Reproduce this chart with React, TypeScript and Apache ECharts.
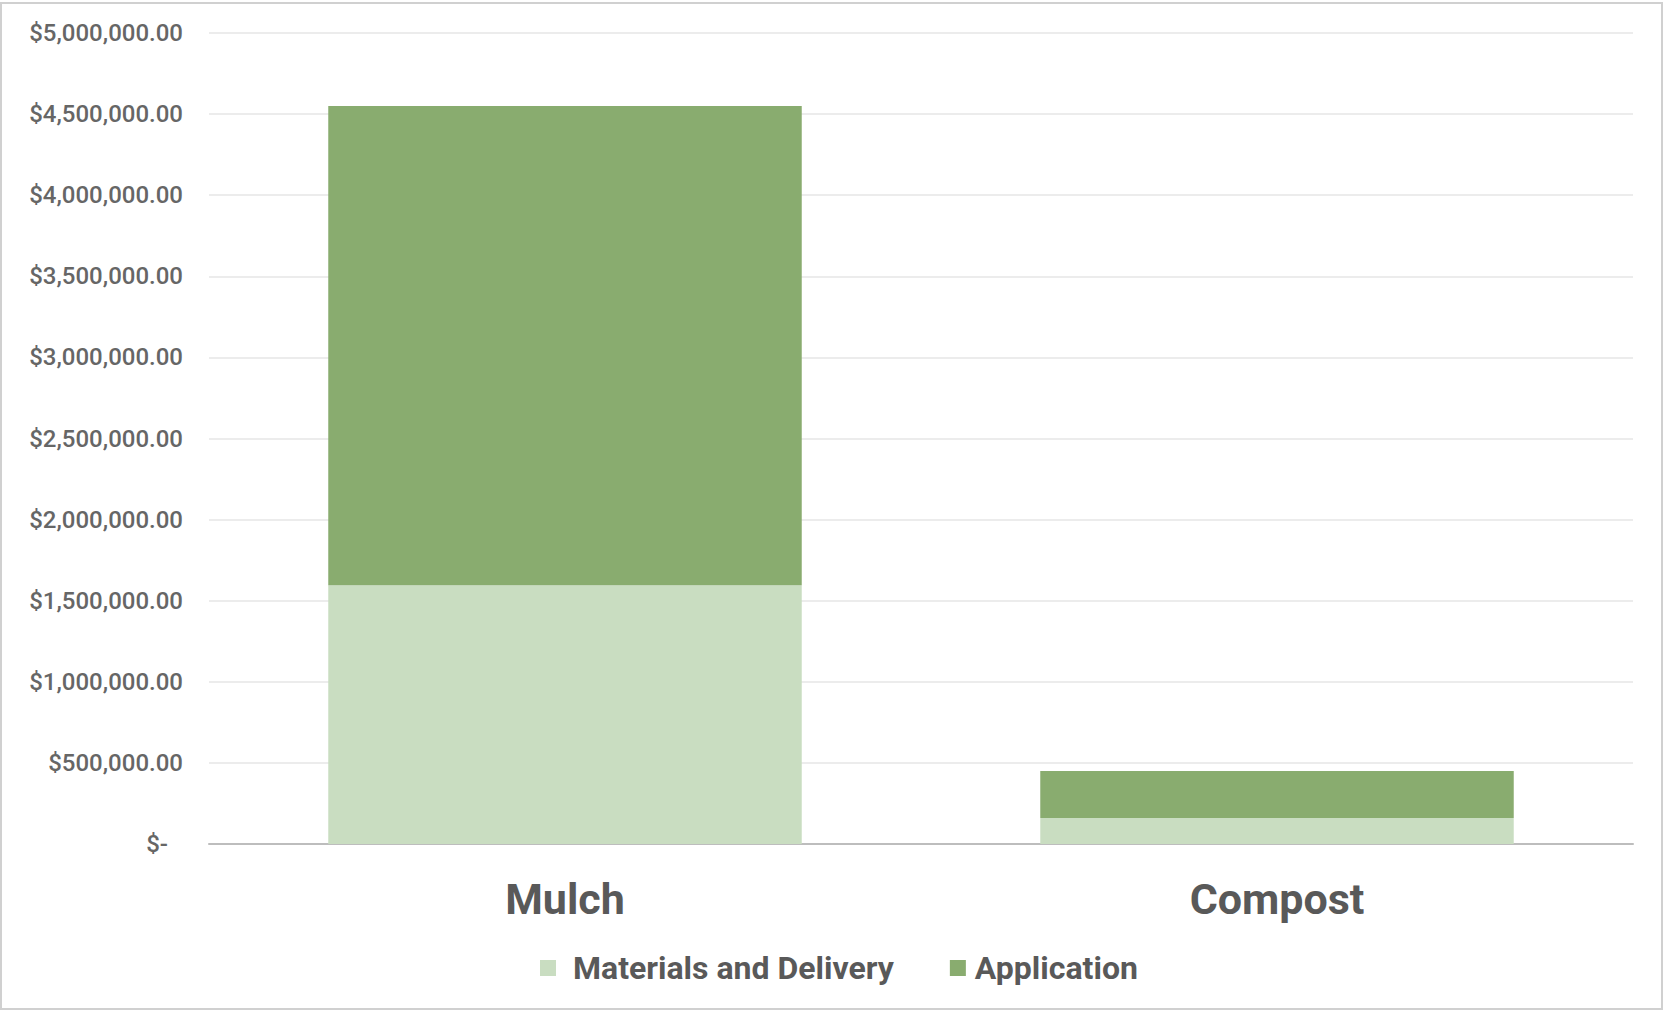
import React, { useEffect, useRef } from "react";
import * as echarts from "echarts";

const categories = ["Mulch", "Compost"];
const materialsAndDelivery = [1595000, 160000];
const application = [2955000, 290000];
const seriesNames = ["Materials and Delivery", "Application"];
const yMax = 5000000;
const yInterval = 500000;

function formatMoney(v: number): string {
  if (v === 0) return "{z|$-}";
  return "$" + v.toLocaleString("en-US", { minimumFractionDigits: 2, maximumFractionDigits: 2 });
}

export default function App() {
  const ref = useRef<HTMLDivElement>(null);
  useEffect(() => {
    if (!ref.current) return;
    const chart = echarts.init(ref.current, undefined, { renderer: "svg" });
    const font = "Roboto, 'Noto Sans', sans-serif";
    const legendText = { fontSize: 32, fontWeight: "bold", color: "#595959", fontFamily: font };
    chart.setOption({
      animation: false,
      backgroundColor: "#ffffff",
      textStyle: { fontFamily: font },
      graphic: [
        {
          type: "rect",
          shape: { x: 1, y: 3, width: 1661, height: 1006 },
          style: { fill: "none", stroke: "#d0d0d0", lineWidth: 2 },
          silent: true,
        },
      ],
      grid: { left: 209, right: 32, top: 33, bottom: 168, containLabel: false },
      legend: {
        data: [
          { name: seriesNames[0], textStyle: { ...legendText, padding: [0, 0, 0, 12] } },
          { name: seriesNames[1], textStyle: { ...legendText, padding: [0, 0, 0, 4] } },
        ],
        bottom: 23,
        left: 535,
        itemWidth: 16,
        itemHeight: 16,
        itemGap: 56,
        icon: "rect",
        textStyle: legendText,
      },
      xAxis: {
        type: "category",
        data: categories,
        axisTick: { show: false },
        axisLine: { lineStyle: { color: "#bdbdbd", width: 2 } },
        axisLabel: { fontSize: 43, fontWeight: "bold", color: "#595959", margin: 33, fontFamily: font },
      },
      yAxis: {
        type: "value",
        min: 0,
        max: yMax,
        interval: yInterval,
        axisLine: { show: false },
        axisTick: { show: false },
        splitLine: { lineStyle: { color: "#ececec", width: 2 } },
        axisLabel: {
          fontSize: 24,
          fontWeight: 500,
          color: "#666666",
          margin: 26,
          fontFamily: font,
          formatter: formatMoney,
          rich: { z: { fontSize: 24, fontWeight: 500, color: "#666666", padding: [0, 15, 0, 0], fontFamily: font } },
        },
      },
      series: [
        {
          name: seriesNames[0],
          type: "bar",
          stack: "total",
          data: materialsAndDelivery,
          barWidth: "66.5%",
          itemStyle: { color: "#c9ddc1" },
        },
        {
          name: seriesNames[1],
          type: "bar",
          stack: "total",
          data: application,
          barWidth: "66.5%",
          itemStyle: { color: "#89ac6f" },
        },
      ],
    });
    return () => chart.dispose();
  }, []);
  return (
    <div
      ref={ref}
      style={{ position: "absolute", left: 0, top: 0, width: 1665, height: 1012 }}
    />
  );
}
